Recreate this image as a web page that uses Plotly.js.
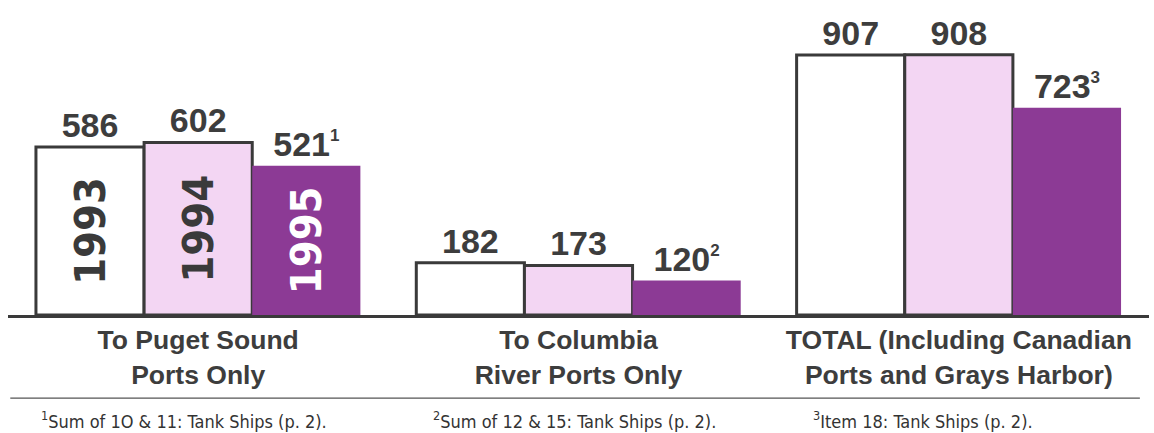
<!DOCTYPE html>
<html>
<head>
<meta charset="utf-8">
<script src="https://cdn.plot.ly/plotly-3.0.1.min.js"></script>
<style>html,body{margin:0;padding:0;background:#fff;}#chart{width:1154px;height:433px;}</style>
</head>
<body>
<div id="chart"></div>
<script>
const categories = ["To Puget Sound<br>Ports Only", "To Columbia<br>River Ports Only", "TOTAL (Including Canadian<br>Ports and Grays Harbor)"];
const years = ["1993", "1994", "1995"];
const values1993 = [586, 182, 907];
const values1994 = [602, 173, 908];
const values1995 = [521, 120, 723];
const footnoteMarks1995 = ["1", "2", "3"];
const footnotes = [
  "<sup>1</sup>Sum of 1O & 11: Tank Ships (p. 2).",
  "<sup>2</sup>Sum of 12 & 15: Tank Ships (p. 2).",
  "<sup>3</sup>Item 18: Tank Ships (p. 2)."
];

const fills = ["#ffffff", "#f3d6f3", "#8c3a95"];
const outlines = ["#3a3a3a", "#3a3a3a", "rgba(0,0,0,0)"];
const outlineWidths = [3, 3, 0];
const yearTextColors = ["#3a3a3a", "#3a3a3a", "#ffffff"];
const series = [values1993, values1994, values1995];

const labelFont = {family: "Liberation Sans, Arial, sans-serif", size: 34, color: "#3d3d3d", weight: 700};

const traces = [];
series.forEach((vals, i) => {
  const txt = vals.map((v, j) => i === 2
    ? v + "<sup><span style='font-size:17px'>" + footnoteMarks1995[j] + "</span></sup>"
    : String(v));
  traces.push({
    type: "bar", x: categories, y: vals, name: years[i], offsetgroup: String(i),
    marker: {color: fills[i], line: {color: outlines[i], width: outlineWidths[i]}},
    text: txt, textposition: "outside", textfont: labelFont, constraintext: "none",
    cliponaxis: false, hoverinfo: "skip", showlegend: false
  });
});
// year labels inside the first group's bars
series.forEach((vals, i) => {
  traces.push({
    type: "bar", x: [categories[0]], y: [vals[0]], offsetgroup: String(i),
    marker: {color: "rgba(0,0,0,0)", line: {width: 0}},
    text: [years[i]],
    textposition: "inside", insidetextanchor: "middle", textangle: -90,
    insidetextfont: {family: "DejaVu Sans Condensed, Liberation Sans, sans-serif", size: 43, color: yearTextColors[i], weight: 700},
    constraintext: "none", hoverinfo: "skip", showlegend: false
  });
});

const layout = {
  width: 1154, height: 433,
  margin: {l: 8, r: 5, t: 14, b: 118},
  paper_bgcolor: "#ffffff", plot_bgcolor: "#ffffff",
  barmode: "group", bargap: 0.147, bargroupgap: 0,
  showlegend: false,
  xaxis: {
    showline: true, linecolor: "#3a3a3a", linewidth: 2.5, ticks: "", showgrid: false,
    tickfont: {family: "Liberation Sans, Arial, sans-serif", size: 26.5, color: "#3d3d3d", weight: 700},
    ticklabelstandoff: 0
  },
  yaxis: {range: [0, 1050], visible: false, showgrid: false, zeroline: false},
  shapes: [{type: "line", xref: "paper", yref: "paper", x0: 0.002, x1: 0.992, y0: -0.276, y1: -0.276,
            line: {color: "#555555", width: 1.2}}],
  annotations: footnotes.map((t, i) => ({
    text: t, xref: "paper", yref: "paper", x: [0.027, 0.371, 0.704][i], y: -0.35,
    xanchor: "left", yanchor: "middle", showarrow: false,
    font: {family: "DejaVu Sans Condensed, Liberation Sans, sans-serif", size: 18, color: "#333333"}
  }))
};

Plotly.newPlot("chart", traces, layout, {displayModeBar: false, staticPlot: true});
</script>
</body>
</html>
